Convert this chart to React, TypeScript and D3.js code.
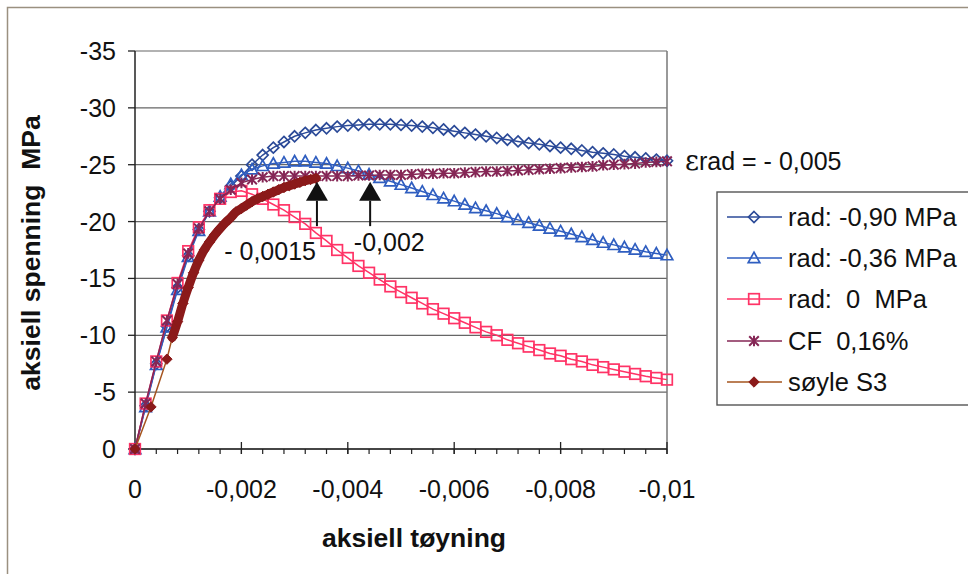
import React from 'react';
import * as d3 from 'd3';

// ---------- data ----------
const strainGrid = [
  0, -0.0002, -0.0004, -0.0006, -0.0008, -0.001, -0.0012, -0.0014, -0.0016, -0.0018,
  -0.002, -0.0022, -0.0024, -0.0026, -0.0028, -0.003, -0.0032, -0.0034, -0.0036, -0.0038,
  -0.004, -0.0042, -0.0044, -0.0046, -0.0048, -0.005, -0.0052, -0.0054, -0.0056, -0.0058,
  -0.006, -0.0062, -0.0064, -0.0066, -0.0068, -0.007, -0.0072, -0.0074, -0.0076, -0.0078,
  -0.008, -0.0082, -0.0084, -0.0086, -0.0088, -0.009, -0.0092, -0.0094, -0.0096, -0.0098,
  -0.01,
];

const rad090 = [
  0, -3.8, -7.5, -10.8, -14.2, -17.0, -19.3, -20.9, -22.1, -23.1,
  -24.0, -25.0, -25.85, -26.5, -27.0, -27.5, -27.8, -28.05, -28.2, -28.35,
  -28.45, -28.5, -28.55, -28.55, -28.55, -28.5, -28.45, -28.35, -28.25, -28.1,
  -27.95, -27.8, -27.65, -27.5, -27.35, -27.2, -27.05, -26.9, -26.8, -26.65,
  -26.5, -26.4, -26.25, -26.1, -26.0, -25.9, -25.75, -25.65, -25.55, -25.45,
  -25.35,
];

const rad036 = [
  0, -3.7, -7.4, -10.7, -14.0, -16.9, -19.2, -20.9, -22.2, -23.3,
  -24.1, -24.6, -24.9, -25.1, -25.2, -25.3, -25.3, -25.2, -25.1, -24.9,
  -24.7, -24.45, -24.15, -23.85, -23.55, -23.25, -22.95, -22.65, -22.35, -22.05,
  -21.8, -21.5, -21.2, -20.95, -20.7, -20.4, -20.15, -19.9, -19.65, -19.4,
  -19.15, -18.9, -18.65, -18.4, -18.15, -17.95, -17.75, -17.55, -17.35, -17.2,
  -17.05,
];

const rad000 = [
  0, -4.0, -7.7, -11.3, -14.6, -17.4, -19.5, -21.0, -22.0, -22.6,
  -22.7, -22.4, -22.0, -21.5, -21.0, -20.4, -19.8, -19.0, -18.3, -17.5,
  -16.8, -16.1, -15.5, -14.9, -14.3, -13.8, -13.3, -12.8, -12.3, -11.9,
  -11.5, -11.1, -10.7, -10.3, -10.0, -9.6, -9.3, -9.0, -8.7, -8.4,
  -8.2, -7.9, -7.7, -7.4, -7.2, -7.0, -6.8, -6.6, -6.4, -6.25,
  -6.1,
];

const cf016 = [
  0, -4.0, -7.7, -11.3, -14.5, -17.2, -19.4, -20.9, -22.0, -22.8,
  -23.4, -23.7, -23.9, -24.0, -24.0, -24.0, -24.0, -24.0, -24.0, -24.0,
  -24.0, -24.05, -24.05, -24.1, -24.1, -24.1, -24.15, -24.2, -24.2, -24.25,
  -24.25, -24.3, -24.35, -24.4, -24.4, -24.45, -24.5, -24.55, -24.6, -24.65,
  -24.7, -24.75, -24.8, -24.85, -24.95, -25.0, -25.05, -25.1, -25.2, -25.25,
  -25.3,
];

const s3Strain = [
  0, -0.0003, -0.0006, -0.0007, -0.0008, -0.0009, -0.001, -0.0011, -0.0012, -0.0013,
  -0.0014, -0.0015, -0.0016, -0.0017, -0.0018, -0.0019, -0.002, -0.0021, -0.0022, -0.0023,
  -0.0024, -0.0025, -0.0026, -0.0027, -0.0028, -0.0029, -0.003, -0.0031, -0.0032, -0.0033,
  -0.0034,
];
const s3Stress = [
  0, -3.7, -7.9, -9.8, -11.2, -12.8, -14.2, -15.5, -16.6, -17.5,
  -18.2, -18.85, -19.4, -19.9, -20.35, -20.85, -21.15, -21.45, -21.75, -22.0,
  -22.2, -22.4, -22.6, -22.8, -23.0, -23.15, -23.3, -23.45, -23.6, -23.7,
  -23.8,
];

const yTicks = [0, -5, -10, -15, -20, -25, -30, -35];
const yTickLabels = ['0', '-5', '-10', '-15', '-20', '-25', '-30', '-35'];
const xTicks = [0, -0.002, -0.004, -0.006, -0.008, -0.01];
const xTickLabels = ['0', '-0,002', '-0,004', '-0,006', '-0,008', '-0,01'];
const xMinorStep = -0.0004;

const legendLabels = ['rad: -0,90 MPa', 'rad: -0,36 MPa', 'rad:  0  MPa', 'CF  0,16%', 'søyle S3'];

const arrowStrains = [-0.00342, -0.00442];
const arrowTip = -23.5;
const arrowTail = -19.6;
const annoLabels = [
  { text: '- 0,0015', strain: -0.00254, stress: -17.4 },
  { text: '-0,002', strain: -0.00478, stress: -18.2 },
];
const epsLabel = { text: 'rad = - 0,005', strain: -0.01, stress: -25.3 };

// ---------- styles ----------
const FONT = '"Liberation Sans", Arial, sans-serif';
const C_DIA = '#2B4A98';
const C_TRI = '#2F5EC0';
const C_SQ = '#FF3366';
const C_CF = '#852655';
const C_S3 = '#8B1A1A';
const C_S3_LINE = '#A5541E';

type Pt = [number, number];

function Marker({ kind, x, y, color }: { kind: string; x: number; y: number; color: string }) {
  if (kind === 'diamond') {
    const r = 5.5;
    return <path d={`M${x},${y - r}L${x + r},${y}L${x},${y + r}L${x - r},${y}Z`} fill="none" stroke={color} strokeWidth={1.7} />;
  }
  if (kind === 'triangle') {
    const r = 5.8;
    return <path d={`M${x},${y - r}L${x + r},${y + r * 0.8}L${x - r},${y + r * 0.8}Z`} fill="none" stroke={color} strokeWidth={1.7} />;
  }
  if (kind === 'square') {
    const r = 5.3;
    return <rect x={x - r} y={y - r} width={2 * r} height={2 * r} fill="none" stroke={color} strokeWidth={1.7} />;
  }
  if (kind === 'star') {
    const r = 4.8;
    return (
      <path
        d={`M${x - r},${y - r}L${x + r},${y + r}M${x - r},${y + r}L${x + r},${y - r}M${x},${y - r - 0.5}L${x},${y + r + 0.5}`}
        stroke={color}
        strokeWidth={2}
        fill="none"
      />
    );
  }
  const r = 5.2;
  return <path d={`M${x},${y - r}L${x + r},${y}L${x},${y + r}L${x - r},${y}Z`} fill={color} stroke={color} strokeWidth={1} />;
}

export default function App() {
  const W = 968;
  const H = 574;
  const x = d3.scaleLinear().domain([0, -0.01]).range([135, 667]);
  const y = d3.scaleLinear().domain([0, -35]).range([449, 51]);
  const line = d3.line<Pt>().x((d) => x(d[0])).y((d) => y(d[1]));
  const smooth = d3.line<Pt>().x((d) => x(d[0])).y((d) => y(d[1])).curve(d3.curveMonotoneX);

  const series = [
    { pts: strainGrid.map((s, i) => [s, rad090[i]] as Pt), color: C_DIA, lineColor: C_DIA, kind: 'diamond' },
    { pts: strainGrid.map((s, i) => [s, rad036[i]] as Pt), color: C_TRI, lineColor: C_TRI, kind: 'triangle' },
    { pts: strainGrid.map((s, i) => [s, rad000[i]] as Pt), color: C_SQ, lineColor: C_SQ, kind: 'square' },
    { pts: strainGrid.map((s, i) => [s, cf016[i]] as Pt), color: C_CF, lineColor: C_CF, kind: 'star' },
    { pts: s3Strain.map((s, i) => [s, s3Stress[i]] as Pt), color: C_S3, lineColor: C_S3_LINE, kind: 'filled' },
  ];
  const s3Band = series[4].pts.slice(3);

  const minorTicks = d3.range(0, -0.01 - 1e-9, xMinorStep);

  const legendX = 717;
  const legendY = 192;
  const rowY = [217, 258, 299, 341, 382];

  return (
    <svg width={W} height={H} style={{ position: 'absolute', left: 0, top: 0, background: '#fff' }} fontFamily={FONT}>
      <rect x={0} y={0} width={W} height={H} fill="#fff" />
      <rect x={7.5} y={7.5} width={W + 20} height={H + 20} fill="none" stroke="#9a9080" strokeWidth={1.5} />

      {yTicks.map((t) => (
        <line key={'g' + t} x1={x(0)} x2={x(-0.01)} y1={y(t)} y2={y(t)} stroke="#666" strokeWidth={1.2} />
      ))}
      <line x1={x(-0.01)} x2={x(-0.01)} y1={y(-35)} y2={y(0)} stroke="#777" strokeWidth={1.5} />

      <line x1={x(0)} x2={x(0)} y1={y(-35)} y2={y(0)} stroke="#222" strokeWidth={1.5} />
      {yTicks.map((t, i) => (
        <g key={'yt' + t}>
          <line x1={x(0) - 7} x2={x(0)} y1={y(t)} y2={y(t)} stroke="#222" strokeWidth={1.3} />
          <text x={116} y={y(t)} dy="0.36em" textAnchor="end" fontSize={25} fill="#111">
            {yTickLabels[i]}
          </text>
        </g>
      ))}

      <line x1={x(0)} x2={x(-0.01)} y1={y(0)} y2={y(0)} stroke="#222" strokeWidth={1.5} />
      {minorTicks.map((t) => (
        <line key={'mt' + t} x1={x(t)} x2={x(t)} y1={y(0)} y2={y(0) + 5} stroke="#222" strokeWidth={1.2} />
      ))}
      {xTicks.map((t, i) => (
        <g key={'xt' + t}>
          <line x1={x(t)} x2={x(t)} y1={y(0) - 7} y2={y(0) + 5} stroke="#222" strokeWidth={1.3} />
          <text x={x(t)} y={489} dy="0.36em" textAnchor="middle" fontSize={25} fill="#111">
            {xTickLabels[i]}
          </text>
        </g>
      ))}

      <text x={414} y={537} dy="0.36em" textAnchor="middle" fontSize={26.5} fontWeight="bold" fill="#111">
        aksiell tøyning
      </text>
      <text
        transform="translate(30,253) rotate(-90)"
        textAnchor="middle"
        dy="0.36em"
        fontSize={26.5}
        fontWeight="bold"
        fill="#111"
        style={{ whiteSpace: 'pre' }}
      >
        {'aksiell spenning  MPa'}
      </text>

      {series.map((s, si) => (
        <g key={'s' + si}>
          <path d={line(s.pts) || ''} fill="none" stroke={s.lineColor} strokeWidth={1.5} />
          {si === 4 && (
            <path d={smooth(s3Band) || ''} fill="none" stroke={C_S3} strokeWidth={9} strokeLinecap="round" strokeLinejoin="round" />
          )}
          {s.pts.map((p, pi) => (
            <Marker key={pi} kind={s.kind} x={x(p[0])} y={y(p[1])} color={s.color} />
          ))}
        </g>
      ))}

      {arrowStrains.map((a) => {
        const ax = x(a);
        const tipY = y(arrowTip);
        const baseY = tipY + 19;
        return (
          <g key={'a' + a}>
            <line x1={ax} x2={ax} y1={baseY} y2={y(arrowTail)} stroke="#111" strokeWidth={2} />
            <path d={`M${ax},${tipY}L${ax + 11},${baseY}L${ax - 11},${baseY}Z`} fill="#111" />
          </g>
        );
      })}

      {annoLabels.map((a) => (
        <text key={a.text} x={x(a.strain)} y={y(a.stress)} dy="0.36em" textAnchor="middle" fontSize={25} fill="#111" style={{ whiteSpace: 'pre' }}>
          {a.text}
        </text>
      ))}
      <text x={x(epsLabel.strain) + 18} y={y(epsLabel.stress)} dy="0.36em" fontSize={25} fill="#111">
        <tspan fontFamily='"DejaVu Serif", serif' fontSize={27}>ε</tspan>
        {epsLabel.text}
      </text>

      <rect x={legendX} y={legendY} width={W} height={213} fill="#fff" stroke="#555" strokeWidth={1.4} />
      {legendLabels.map((lab, i) => (
        <g key={lab}>
          <line x1={727} x2={782} y1={rowY[i]} y2={rowY[i]} stroke={series[i].lineColor} strokeWidth={1.6} />
          <Marker kind={series[i].kind} x={754} y={rowY[i]} color={series[i].color} />
          <text x={788} y={rowY[i]} dy="0.36em" fontSize={25.5} fill="#111" style={{ whiteSpace: 'pre' }}>
            {lab}
          </text>
        </g>
      ))}
    </svg>
  );
}
